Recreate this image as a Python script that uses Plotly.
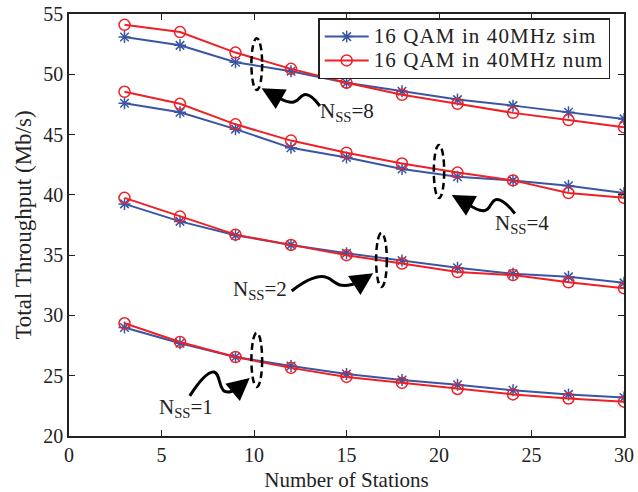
import plotly.graph_objects as go

# ---------------- data ----------------
stations = [3, 6, 9, 12, 15, 18, 21, 24, 27, 30]

sim_nss8 = [53.1, 52.4, 51.0, 50.25, 49.3, 48.6, 47.9, 47.4, 46.85, 46.3]
num_nss8 = [54.1, 53.5, 51.8, 50.45, 49.3, 48.3, 47.55, 46.8, 46.2, 45.6]
sim_nss4 = [47.6, 46.85, 45.45, 43.9, 43.1, 42.15, 41.5, 41.2, 40.75, 40.15]
num_nss4 = [48.55, 47.55, 45.85, 44.5, 43.5, 42.6, 41.85, 41.2, 40.15, 39.75]
sim_nss2 = [39.25, 37.8, 36.65, 35.85, 35.15, 34.55, 33.95, 33.45, 33.2, 32.7]
num_nss2 = [39.75, 38.2, 36.7, 35.85, 35.0, 34.3, 33.6, 33.35, 32.75, 32.25]
sim_nss1 = [29.0, 27.7, 26.55, 25.8, 25.15, 24.65, 24.25, 23.8, 23.45, 23.2]
num_nss1 = [29.35, 27.8, 26.55, 25.65, 24.9, 24.4, 23.9, 23.45, 23.1, 22.85]

sim_series = [sim_nss8, sim_nss4, sim_nss2, sim_nss1]
num_series = [num_nss8, num_nss4, num_nss2, num_nss1]

sim_name = "16 QAM in 40MHz sim"
num_name = "16 QAM in 40MHz num"

x_ticks = [0, 5, 10, 15, 20, 25, 30]
y_ticks = [20, 25, 30, 35, 40, 45, 50, 55]

# annotation labels (text, left x, y)
label_text = ["N<sub>SS</sub>=8", "N<sub>SS</sub>=4", "N<sub>SS</sub>=2", "N<sub>SS</sub>=1"]
label_x = [13.45, 22.91, 8.78, 4.73]
label_y = [46.85, 37.6, 32.1, 22.35]

# dashed ellipses (x0, x1, y0, y1)
ell_x0 = [9.86, 19.72, 16.6, 9.86]
ell_x1 = [10.44, 20.28, 17.18, 10.44]
ell_y0 = [48.7, 39.74, 32.36, 24.07]
ell_y1 = [52.99, 44.14, 36.84, 28.55]

# curvy arrow paths (curve points ending at arrow tail) and tips
arrow_curve_x = [[13.56, 12.80, 12.15, 11.45],
                 [24.10, 23.12, 22.48, 21.56],
                 [12.04, 13.66, 14.75, 15.72],
                 [6.53, 7.83, 8.42, 9.07]]
arrow_curve_y = [[47.37, 48.33, 47.70, 47.95],
                 [38.45, 39.62, 38.70, 39.25],
                 [32.03, 33.22, 32.50, 32.78],
                 [23.33, 25.30, 23.70, 23.91]]
arrow_tip_x = [10.41, 20.69, 16.44, 9.77]
arrow_tip_y = [48.84, 39.99, 33.50, 24.82]

BLUE = "#3A55A4"
RED = "#EE2026"
FONT = "Liberation Serif"


def legend_label(name):
    return '<span style="font-size:21px;letter-spacing:1.1px">%s</span>' % name


fig = go.Figure()

for i, (s, n) in enumerate(zip(sim_series, num_series)):
    fig.add_trace(go.Scatter(
        x=stations, y=s, mode="lines+markers", name=legend_label(sim_name),
        showlegend=(i == 0), legendgroup="sim",
        line=dict(color=BLUE, width=2),
        marker=dict(symbol="asterisk-open", size=10, color=BLUE,
                    line=dict(color=BLUE, width=1.5)),
    ))
    fig.add_trace(go.Scatter(
        x=stations, y=n, mode="lines+markers", name=legend_label(num_name),
        showlegend=(i == 0), legendgroup="num",
        line=dict(color=RED, width=2),
        marker=dict(symbol="circle-open", size=11, color=RED,
                    line=dict(color=RED, width=1.5)),
    ))

# curvy arrow bodies
for cx, cy in zip(arrow_curve_x, arrow_curve_y):
    fig.add_trace(go.Scatter(
        x=cx, y=cy, mode="lines", showlegend=False, hoverinfo="skip",
        line=dict(color="black", width=3, shape="spline", smoothing=1.3),
    ))

shapes = []
for x0, x1, y0, y1 in zip(ell_x0, ell_x1, ell_y0, ell_y1):
    shapes.append(dict(type="circle", xref="x", yref="y",
                       x0=x0, x1=x1, y0=y0, y1=y1,
                       line=dict(color="black", width=2.5, dash="7px,4px")))

annotations = []
for cx, cy, tx, ty in zip(arrow_curve_x, arrow_curve_y, arrow_tip_x, arrow_tip_y):
    annotations.append(dict(
        x=tx, y=ty, ax=cx[-1], ay=cy[-1], xref="x", yref="y",
        axref="x", ayref="y", text="", showarrow=True,
        arrowhead=2, arrowsize=1.5, arrowwidth=3, arrowcolor="black",
    ))
for t, lx, ly in zip(label_text, label_x, label_y):
    annotations.append(dict(
        x=lx, y=ly, xref="x", yref="y", text=t, showarrow=False,
        xanchor="left", yanchor="middle",
        font=dict(family=FONT, size=21, color="#222"),
    ))

axis_common = dict(
    showline=True, linecolor="#222", linewidth=1.5, mirror="ticks",
    ticks="inside", ticklen=6, tickwidth=1.2, tickcolor="#222",
    showgrid=False, zeroline=False, automargin=False,
    tickfont=dict(family=FONT, size=20, color="#222"),
)

fig.update_layout(
    width=638, height=492, autosize=False,
    paper_bgcolor="white", plot_bgcolor="white",
    margin=dict(l=69, r=14, t=14, b=56),
    xaxis=dict(range=[0, 30], tickvals=x_ticks,
               title=dict(text="Number of Stations", standoff=11,
                          font=dict(family=FONT, size=21, color="#222")),
               **axis_common),
    yaxis=dict(range=[20, 55], tickvals=y_ticks,
               title=dict(text="Total Throughput (Mb/s)", standoff=5,
                          font=dict(family=FONT, size=23, color="#222")),
               **axis_common),
    legend=dict(x=0.449, y=0.99, xanchor="left", yanchor="top",
                bgcolor="white", bordercolor="#222", borderwidth=1.5,
                font=dict(family=FONT, size=16, color="#222"),
                tracegroupgap=0, itemwidth=44),
    shapes=shapes,
    annotations=annotations,
)

fig.write_html("out.html")
